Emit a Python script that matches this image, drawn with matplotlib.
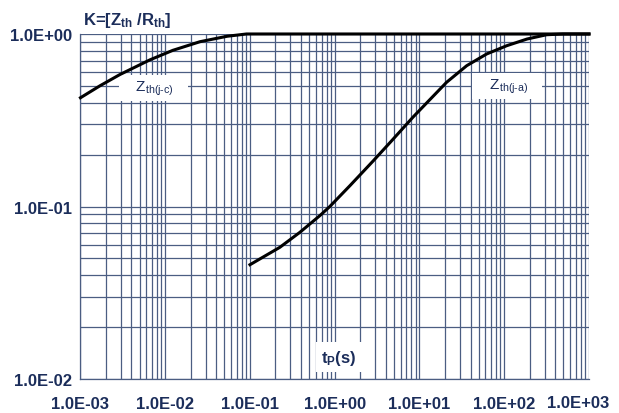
import matplotlib
matplotlib.use('Agg')
import matplotlib.pyplot as plt
from matplotlib.ticker import FixedLocator, FuncFormatter, LogLocator, NullFormatter

plt.rcParams['font.family'] = ['Liberation Sans', 'DejaVu Sans']
plt.rcParams['mathtext.fontset'] = 'custom'
plt.rcParams['mathtext.rm'] = 'Liberation Sans'
plt.rcParams['mathtext.it'] = 'Liberation Sans'
plt.rcParams['mathtext.bf'] = 'Liberation Sans:bold'

# Zth(j-c) curve
jc_t = [1e-3, 1.7e-3, 2.92e-3, 6.6e-3, 1.23e-2, 2.57e-2, 5.37e-2, 9.1e-2, 1e3]
jc_k = [0.427, 0.501, 0.582, 0.708, 0.804, 0.902, 0.970, 1.0, 1.0]

# Zth(j-a) curve
ja_t = [0.1, 0.225, 0.387, 0.667, 0.875, 1.51, 2.85, 4.57, 8.45, 20.9,
        36.1, 62.1, 107, 186, 316, 490, 1e3]
ja_k = [0.046, 0.058, 0.0708, 0.0885, 0.100, 0.132, 0.184, 0.237, 0.331,
        0.525, 0.655, 0.766, 0.855, 0.935, 0.99, 1.0, 1.0]

x_ticks = [1e-3, 1e-2, 1e-1, 1e0, 1e1, 1e2, 1e3]
y_ticks = [1e-2, 1e-1, 1e0]

navy = '#1b2d5a'
gridc = '#4b5d82'

fig = plt.figure(figsize=(6.19, 4.14), dpi=100)
ax = fig.add_axes([0.130, 0.082, 0.8215, 0.8335])

ax.set_xscale('log')
ax.set_yscale('log')
ax.set_xlim(1e-3, 1e3)
ax.set_ylim(1e-2, 1e0)

ax.plot(jc_t, jc_k, color='black', lw=2.2, zorder=4, clip_on=False)
ax.plot(ja_t, ja_k, color='black', lw=2.2, zorder=4, clip_on=False)

ax.xaxis.set_major_locator(FixedLocator(x_ticks))
ax.yaxis.set_major_locator(FixedLocator(y_ticks))
ax.xaxis.set_minor_locator(LogLocator(base=10, subs=range(2, 10), numticks=20))
ax.yaxis.set_minor_locator(LogLocator(base=10, subs=range(2, 10), numticks=20))
ax.xaxis.set_minor_formatter(NullFormatter())
ax.yaxis.set_minor_formatter(NullFormatter())
# last x label is drawn by hand, shifted left to stay inside the figure
ax.xaxis.set_major_formatter(FuncFormatter(lambda v, p: '' if v >= 1e3 else f'{v:.1E}'))
ax.yaxis.set_major_formatter(FuncFormatter(lambda v, p: f'{v:.1E}'))

ax.grid(which='both', color=gridc, lw=0.9, zorder=1)
ax.tick_params(which='both', length=0, labelsize=12, labelcolor=navy)
ax.tick_params(axis='x', pad=12)
ax.tick_params(axis='y', pad=6)
for lab in ax.get_xticklabels() + ax.get_yticklabels():
    lab.set_fontweight('bold')
for s in ['top', 'right']:
    ax.spines[s].set_visible(False)
for s in ['left', 'bottom']:
    ax.spines[s].set_color(gridc)
    ax.spines[s].set_linewidth(0.9)

ax.annotate(f'{x_ticks[-1]:.1E}', xy=(x_ticks[-1], 0), xycoords=('data', 'axes fraction'),
            xytext=(-11, -16), textcoords='offset pixels', ha='center', va='top',
            fontsize=12, fontweight='bold', color=navy)

box = dict(facecolor='white', edgecolor='none', pad=3)
ax.text(7.3e-3, 0.486, '   Z$_{\\mathrm{th(j\u2010c)}}$   ', color=navy,
        fontsize=11, ha='center', va='center', bbox=box, zorder=3)
ax.text(108, 0.5, '   Z$_{\\mathrm{th(j\u2010a)}}$   ', color=navy,
        fontsize=11, ha='center', va='center', bbox=box, zorder=3)
ax.text(1.12, 0.0134, 't$_{\\mathbf{P}}$(s)', color=navy, fontsize=12,
        fontweight='bold', ha='center', va='center',
        bbox=dict(facecolor='white', edgecolor='none', pad=4), zorder=3)

fig.text(83 / 619, 1 - 20 / 414, 'K=[Z$_{\\mathbf{th}}$ /R$_{\\mathbf{th}}$]',
         color=navy, fontsize=12, fontweight='bold', ha='left', va='center')

fig.savefig('out.png', dpi=100)
